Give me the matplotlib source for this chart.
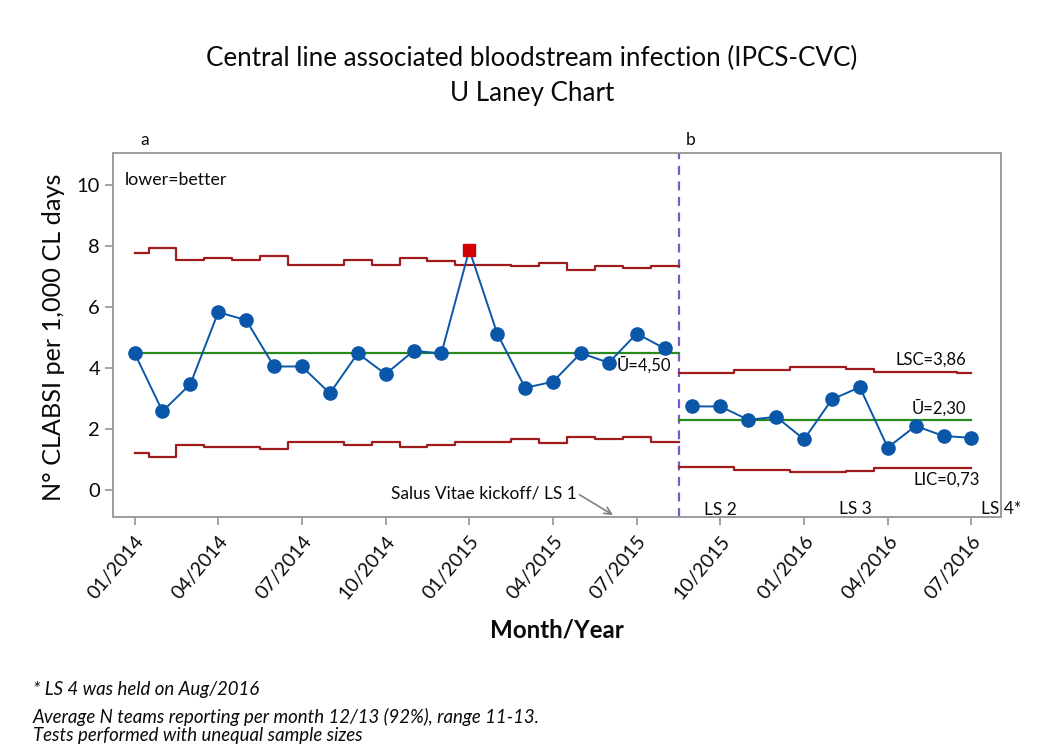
import matplotlib.pyplot as plt
import numpy as np

FONT = "Lato"
BLUE = "#0A56A8"
RED_POINT = "#D20000"
LIMIT = "#A01C1C"
CENTER = "#2B8A1E"
STAGE = "#7B58C9"
AXIS = "#9C9C9C"
INK = "#0A0A0A"
NOTE = "#808080"

TICK_LABELS = ["01/2014", "04/2014", "07/2014", "10/2014", "01/2015", "04/2015",
               "07/2015", "10/2015", "01/2016", "04/2016", "07/2016"]

# stage a: 01/2014 - 08/2015
RATE_A = [4.49, 2.58, 3.47, 5.83, 5.57, 4.05, 4.05, 3.17, 4.48, 3.80,
          4.56, 4.48, 7.88, 5.13, 3.35, 3.55, 4.49, 4.17, 5.13, 4.64]
UCL_A = [7.78, 7.92, 7.54, 7.60, 7.53, 7.67, 7.38, 7.38, 7.54, 7.38,
         7.60, 7.52, 7.38, 7.38, 7.33, 7.45, 7.21, 7.34, 7.29, 7.34]
LCL_A = [1.20, 1.07, 1.48, 1.40, 1.40, 1.33, 1.57, 1.57, 1.46, 1.57,
         1.40, 1.48, 1.57, 1.57, 1.66, 1.55, 1.73, 1.66, 1.73, 1.57]
CENTER_A = 4.50

# stage b: 09/2015 - 07/2016
RATE_B = [2.74, 2.74, 2.30, 2.40, 1.66, 2.97, 3.37, 1.39, 2.10, 1.77, 1.71]
UCL_B = [3.83, 3.83, 3.93, 3.93, 4.02, 4.02, 3.96, 3.88, 3.88, 3.88, 3.83]
LCL_B = [0.77, 0.77, 0.66, 0.66, 0.58, 0.58, 0.63, 0.71, 0.71, 0.71, 0.71]
CENTER_B = 2.30


def step_xy(x, values, start, end):
    edges = np.concatenate([[start], (x[:-1] + x[1:]) / 2, [end]])
    return np.repeat(edges, 2)[1:-1], np.repeat(values, 2)


def draw_stage(ax, x, rate, ucl, lcl, center, start, end):
    rate = np.array(rate)
    for limit in (ucl, lcl):
        sx, sy = step_xy(x, np.array(limit), start, end)
        ax.plot(sx, sy, color=LIMIT, lw=1.6, zorder=2)
    ax.plot([start, end], [center, center], color=CENTER, lw=1.6, zorder=2)
    ax.plot(x, rate, color=BLUE, lw=1.4, zorder=3)
    out = (rate > np.array(ucl)) | (rate < np.array(lcl))
    ax.plot(x[~out], rate[~out], "o", color=BLUE, ms=9.5, zorder=4)
    ax.plot(x[out], rate[out], "s", color=RED_POINT, ms=9, zorder=4)


fig = plt.figure(figsize=(10.44, 7.5), dpi=100)
ax = fig.add_axes([0.1078, 0.3107, 0.851, 0.4853])

xa = np.arange(len(RATE_A), dtype=float)
xb = np.arange(len(RATE_B), dtype=float) + len(RATE_A)
split = len(RATE_A) - 0.5

draw_stage(ax, xa, RATE_A, UCL_A, LCL_A, CENTER_A, xa[0], split)
draw_stage(ax, xb, RATE_B, UCL_B, LCL_B, CENTER_B, split, xb[-1])
ax.axvline(split, color=STAGE, lw=1.6, ls=(0, (4, 3)), zorder=1)

ax.set_xlim(-0.79, 31.06)
ax.set_ylim(-0.885, 11.05)
ax.set_yticks([0, 2, 4, 6, 8, 10])
ax.set_xticks(np.arange(0, len(xa) + len(xb), 3))
ax.set_xticklabels(TICK_LABELS, rotation=50, ha="right", va="top",
                   rotation_mode="anchor", fontsize=14, family=FONT)
for lab in ax.get_yticklabels():
    lab.set_fontfamily(FONT)
    lab.set_fontsize(14.5)
ax.tick_params(axis="both", colors=AXIS, labelcolor=INK, length=6, width=1.3, direction="out")
ax.tick_params(axis="y", pad=3)
ax.tick_params(axis="x", pad=5)
for spine in ax.spines.values():
    spine.set_color(AXIS)
    spine.set_linewidth(1.4)

txt = dict(family=FONT, color=INK)
ax.text(0.014, 0.926, "lower=better", transform=ax.transAxes, ha="left", va="center", fontsize=12.8, **txt)
ax.text(19.25, CENTER_A - 0.12, "Ū=4,50", ha="right", va="top", fontsize=12, **txt)
ax.text(29.8, 4.28, "LSC=3,86", ha="right", va="center", fontsize=12, **txt)
ax.text(29.8, 2.69, "Ū=2,30", ha="right", va="center", fontsize=12, **txt)
ax.text(30.3, 0.33, "LIC=0,73", ha="right", va="center", fontsize=12, **txt)
ax.text(21.0, -0.66, "LS 2", ha="center", va="center", fontsize=12.5, **txt)
ax.text(25.85, -0.62, "LS 3", ha="center", va="center", fontsize=12.5, **txt)
ax.text(30.33, -0.62, "LS 4*", ha="left", va="center", fontsize=12.5, clip_on=False, **txt)
ax.annotate("Salus Vitae kickoff/ LS 1", xy=(17.15, -0.82), xytext=(15.85, -0.1),
            ha="right", va="center", fontsize=12.5, annotation_clip=False,
            arrowprops=dict(arrowstyle="->", color=NOTE, lw=1.2, relpos=(1, 0.5),
                            shrinkA=0, shrinkB=0), **txt)

top = ax.get_xaxis_transform()
ax.text(0.38, 1.036, "a", transform=top, ha="center", va="center", fontsize=12.5, **txt)
ax.text(19.95, 1.036, "b", transform=top, ha="center", va="center", fontsize=12.5, **txt)

fig.text(532 / 1044, 1 - 58 / 750, "Central line associated bloodstream infection (IPCS-CVC)",
         ha="center", va="center", fontsize=18.7, **txt)
fig.text(532 / 1044, 1 - 93 / 750, "U Laney Chart", ha="center", va="center", fontsize=18.7, **txt)
fig.text(54 / 1044, 1 - 337 / 750, "N° CLABSI per 1,000 CL days", rotation=90,
         ha="center", va="center", fontsize=18.2, **txt)
fig.text(557 / 1044, 1 - 630 / 750, "Month/Year", ha="center", va="center",
         fontsize=17.4, weight="bold", **txt)

notes = ["* LS 4 was held on Aug/2016",
         "Average N teams reporting per month 12/13 (92%), range 11-13.",
         "Tests performed with unequal sample sizes"]
for note, y in zip(notes, [690, 717, 735]):
    fig.text(33 / 1044, 1 - y / 750, note, ha="left", va="center", fontsize=13.4,
             style="italic", **txt)

fig.savefig("out.png", dpi=100)
